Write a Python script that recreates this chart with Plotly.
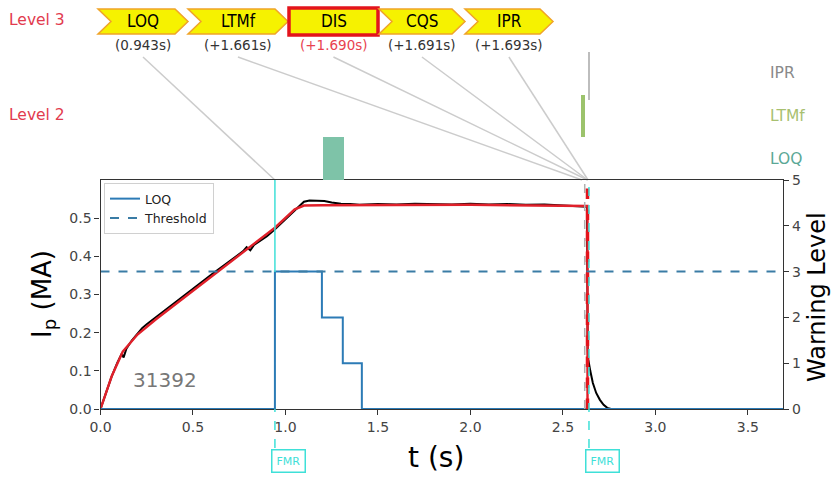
import plotly.graph_objects as go

# ---------------- data ----------------
# measured plasma current (black)
t_meas = [0, 0.03, 0.06, 0.09, 0.115, 0.125, 0.14, 0.17, 0.2, 0.225, 0.25, 0.3, 0.4, 0.5, 0.6, 0.7,
          0.77, 0.79, 0.81, 0.83, 0.9, 0.943, 1.0, 1.05, 1.08, 1.1, 1.13, 1.17, 1.21, 1.25, 1.3,
          1.35, 1.4, 1.5, 1.6, 1.7, 1.8, 1.9, 2.0, 2.1, 2.2, 2.3, 2.4, 2.5, 2.55, 2.6, 2.63,
          2.634, 2.637, 2.648, 2.662, 2.68, 2.70, 2.72, 2.74, 2.76, 3.69]
ip_meas = [0, 0.045, 0.085, 0.12, 0.145, 0.135, 0.158, 0.18, 0.196, 0.212, 0.222, 0.241, 0.279, 0.315,
           0.352, 0.388, 0.413, 0.424, 0.416, 0.43, 0.453, 0.471, 0.497, 0.522, 0.536, 0.543, 0.546,
           0.546, 0.545, 0.541, 0.538, 0.537, 0.535, 0.537, 0.536, 0.538, 0.537, 0.536, 0.538, 0.536,
           0.537, 0.535, 0.536, 0.534, 0.533, 0.531, 0.53,
           0.16, 0.13, 0.1, 0.068, 0.042, 0.024, 0.011, 0.003, 0.0, 0.0]
# reference plasma current (red)
t_ref = [0, 0.06, 0.12, 0.2, 0.3, 0.943, 1.05, 1.1, 1.2, 2.0, 2.633, 2.633]
ip_ref = [0, 0.085, 0.15, 0.195, 0.235, 0.475, 0.523, 0.533, 0.534, 0.535, 0.532, 0.0]

# LOQ warning level (right axis)
t_loq = [0, 0.943, 0.943, 1.197, 1.197, 1.31, 1.31, 1.413, 1.413, 3.69]
lvl_loq = [0, 0, 3, 3, 2, 2, 1, 1, 0, 0]
threshold = 3

# level-3 events
events = ["LOQ", "LTMf", "DIS", "CQS", "IPR"]
event_offsets = [0.943, 1.661, 1.690, 1.691, 1.693]
event_labels = ["(0.943s)", "(+1.661s)", "(+1.690s)", "(+1.691s)", "(+1.693s)"]

# level-2 alarm intervals
lvl2_names = ["LOQ", "LTMf", "IPR"]
lvl2_start = [1.199, 2.593, 2.6355]
lvl2_end = [1.312, 2.615, 2.6385]
lvl2_base = [0, 1, 1.88]
lvl2_top = [1, 2, 3]

t_fmr = [0.943, 2.641]
t_gray = 2.618
shot = "31392"

# ---------------- layout helpers ----------------
W, H = 839, 477
def px(x):
    return x / W
def py(y):
    return 1 - y / H

X0, X1 = 100.5, 783
Y_BOT, Y_TOP = 409, 180
L2_TOP = 52
FONT = "DejaVu Sans"
CYAN = "#3fe0d8"
BLUE = "#2c7bb6"

fig = go.Figure()

fig.add_trace(go.Scatter(x=t_meas, y=ip_meas, mode="lines", line=dict(color="black", width=2),
                         showlegend=False, xaxis="x", yaxis="y"))
fig.add_trace(go.Scatter(x=t_ref, y=ip_ref, mode="lines", line=dict(color="#e0202a", width=2.4),
                         showlegend=False, xaxis="x", yaxis="y"))
fig.add_trace(go.Scatter(x=t_loq, y=lvl_loq, mode="lines", name="LOQ",
                         line=dict(color=BLUE, width=2), xaxis="x", yaxis="y2"))
fig.add_trace(go.Scatter(x=[0, 3.69], y=[threshold, threshold], mode="lines", name="Threshold",
                         line=dict(color="#3a7ca5", width=2, dash="dash"), xaxis="x", yaxis="y2"))

lvl2_colors = ["#7ec3a8", "#9cc36c", "#bdbdbd"]
fig.add_trace(go.Bar(
    x=[(a + b) / 2 for a, b in zip(lvl2_start, lvl2_end)],
    width=[b - a for a, b in zip(lvl2_start, lvl2_end)],
    base=lvl2_base,
    y=[t - b for t, b in zip(lvl2_top, lvl2_base)],
    marker=dict(color=lvl2_colors, line=dict(width=0)),
    showlegend=False, xaxis="x", yaxis="y3"))

shapes = []
annotations = []

def note(x, y, text, size, color, xref="paper", yref="paper", xanchor="center", yanchor="middle", **kw):
    d = dict(xref=xref, yref=yref, x=x, y=y, text=text, showarrow=False,
             xanchor=xanchor, yanchor=yanchor, font=dict(family=kw.pop("family", FONT), size=size, color=color))
    d.update(kw)
    annotations.append(d)

# level-3 chevrons
edges = [98, 188, 288, 379, 465, 553]
top, bot = 9, 34
mid = (top + bot) / 2
tip = 13
for i, name in enumerate(events):
    x0, x1 = edges[i], edges[i + 1]
    c = (x0 + x1) / 2
    if name == "DIS":
        shapes.append(dict(type="rect", xref="paper", yref="paper",
                           x0=px(x0 + 1), x1=px(x1 - 1), y0=py(bot + 1), y1=py(top - 1),
                           fillcolor="#f6f200", line=dict(color="#e3141c", width=3.5)))
    else:
        path = (f"M {px(x0)},{py(top)} L {px(x1 - tip)},{py(top)} L {px(x1)},{py(mid)} "
                f"L {px(x1 - tip)},{py(bot)} L {px(x0)},{py(bot)} L {px(x0 + tip)},{py(mid)} Z")
        shapes.append(dict(type="path", xref="paper", yref="paper", path=path,
                           fillcolor="#f6f200", line=dict(color="#f0a428", width=1.5)))
    note(px(c), py(mid), name, 17, "black",
         family="DejaVu Sans Condensed, Liberation Sans Narrow, DejaVu Sans")
    note(px(c), py(45), event_labels[i], 13.5, "#e8424f" if name == "DIS" else "#333333")
    t_abs = event_offsets[0] + (event_offsets[i] if i > 0 else 0)
    t_start = (c - X0) / 185.0
    shapes.append(dict(type="line", xref="x", yref="paper", x0=t_start, y0=py(57),
                       x1=t_abs, y1=py(Y_TOP), line=dict(color="#cccccc", width=1.5), layer="below"))

# vertical markers
shapes.append(dict(type="line", xref="x", yref="paper", x0=t_gray, x1=t_gray,
                   y0=py(Y_BOT), y1=py(Y_TOP), line=dict(color="#b0b0b0", width=1.5, dash="dash")))
t_dis = event_offsets[0] + event_offsets[2]
shapes.append(dict(type="line", xref="x", yref="paper", x0=t_dis, x1=t_dis,
                   y0=py(Y_BOT), y1=py(Y_TOP), line=dict(color="#e3141c", width=3.5, dash="dash")))
# FMR lines
shapes.append(dict(type="line", xref="x", yref="paper", x0=t_fmr[0], x1=t_fmr[0],
                   y0=py(272), y1=py(Y_TOP), line=dict(color=CYAN, width=1.5)))
shapes.append(dict(type="line", xref="x", yref="paper", x0=t_fmr[0], x1=t_fmr[0],
                   y0=py(448), y1=py(Y_BOT), line=dict(color=CYAN, width=1.5, dash="dash")))
shapes.append(dict(type="line", xref="x", yref="paper", x0=t_fmr[1], x1=t_fmr[1],
                   y0=py(448), y1=py(Y_TOP), line=dict(color=CYAN, width=1.5, dash="dash")))
for tf in t_fmr:
    note(tf, py(461), "FMR", 11, CYAN, xref="x", xanchor="left", xshift=-4,
         bordercolor=CYAN, borderwidth=1.5, borderpad=4)

# level labels
note(px(7), py(20), "Level 3", 15.5, "#e23b4e", xanchor="left")
note(px(7), py(115), "Level 2", 15.5, "#e23b4e", xanchor="left")
lbl_colors = ["#5ba896", "#a8c070", "#8a8a8a"]
for i, name in enumerate(lvl2_names):
    note(px(768), i + 0.5, name, 15.5, lbl_colors[i], yref="y3", xanchor="left")

# axis titles and shot number
note(px(43), py(294), "I<sub>p</sub> (MA)", 26, "black", textangle=-90)
note(px(436), py(457), "t (s)", 28, "black")
note(px(817), py(297), "Warning Level", 24, "black", textangle=-90)
note(px(165), py(380), shot, 20, "#777777")

tickfont = dict(family=FONT, size=14, color="#444444")
fig.update_layout(
    width=W, height=H, autosize=False, margin=dict(l=0, r=0, t=0, b=0, pad=0),
    paper_bgcolor="white", plot_bgcolor="rgba(0,0,0,0)",
    barmode="overlay", bargap=0,
    xaxis=dict(domain=[px(X0), px(X1)], range=[0, 3.69], anchor="y", automargin=False,
               tickvals=[0, 0.5, 1, 1.5, 2, 2.5, 3, 3.5], tickformat=".1f",
               ticks="outside", ticklen=5, tickcolor="#333", showline=True, linecolor="#333",
               linewidth=1.3, mirror=True, showgrid=False, zeroline=False, tickfont=tickfont),
    yaxis=dict(domain=[py(Y_BOT), py(Y_TOP)], range=[0, 0.6], anchor="x", automargin=False,
               tickvals=[0, 0.1, 0.2, 0.3, 0.4, 0.5], tickformat=".1f",
               ticks="outside", ticklen=5, tickcolor="#333", showline=True, linecolor="#333",
               linewidth=1.3, showgrid=False, zeroline=False, tickfont=tickfont),
    yaxis2=dict(overlaying="y", side="right", anchor="x", range=[0, 5], automargin=False,
                tickvals=[0, 1, 2, 3, 4, 5], ticks="outside", ticklen=5, tickcolor="#333",
                showline=True, linecolor="#333", linewidth=1.3, showgrid=False, zeroline=False,
                tickfont=tickfont),
    yaxis3=dict(domain=[py(Y_TOP), py(L2_TOP)], range=[0, 3], anchor="x", visible=False,
                fixedrange=True, automargin=False),
    legend=dict(x=px(104), y=py(183), xanchor="left", yanchor="top", bgcolor="white",
                bordercolor="#d0d0d0", borderwidth=1, font=dict(family=FONT, size=12.5, color="#222"),
                tracegroupgap=0, itemwidth=30),
    shapes=shapes, annotations=annotations,
)

fig.write_html("out.html")
